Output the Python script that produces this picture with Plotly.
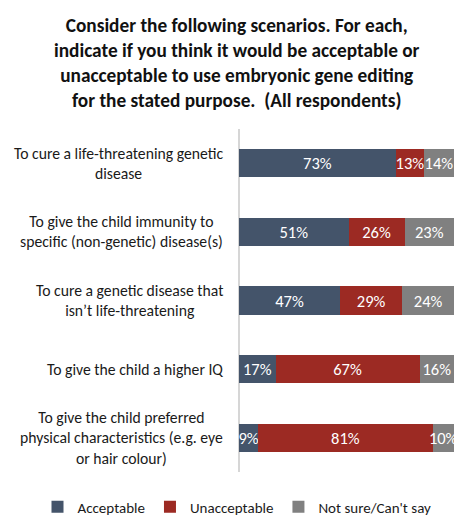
import plotly.graph_objects as go

categories = [
    "To cure a life-threatening genetic<br>disease",
    "To give the child immunity to<br>specific (non-genetic) disease(s)",
    "To cure a genetic disease that<br>isn\u2019t life-threatening",
    "To give the child a higher IQ",
    "To give the child preferred<br>physical characteristics (e.g. eye<br>or hair colour)",
]
acceptable = [73, 51, 47, 17, 9]
unacceptable = [13, 26, 29, 67, 81]
not_sure = [14, 23, 24, 16, 10]

series_names = ["Acceptable", "Unacceptable", "Not sure/Can't say"]
series_values = [acceptable, unacceptable, not_sure]
series_colors = ["#44546A", "#9C2A23", "#808080"]

FONT = "Carlito, Lato, 'Liberation Sans', sans-serif"
cat_ids = list(range(len(categories)))

# page has an 8px body margin; figure is sized to fit the window
OFF = 8
W, H = 474 - OFF, 532 - OFF


def PX(x):
    return (x - OFF) / W


def PY(y):
    return 1 - (y - OFF) / H


fig = go.Figure()
for name, vals, col in zip(series_names, series_values, series_colors):
    fig.add_trace(go.Bar(
        y=cat_ids, x=vals, name=name, orientation="h",
        marker=dict(color=col, line=dict(width=0)),
        text=[f"{v}%" for v in vals], textposition="inside",
        insidetextanchor="middle", constraintext="none", textangle=0,
        textfont=dict(color="white", size=16.5, family=FONT),
        width=0.41, hoverinfo="skip",
    ))

for i, c in enumerate(categories):
    fig.add_annotation(
        x=PX(225), xref="paper", y=i, yref="y",
        text=c, showarrow=False, xanchor="right", align="center",
        font=dict(size=15.7, color="#1a1a1a", family=FONT),
    )

fig.add_annotation(
    text="<b>Consider the following scenarios. For each,<br>indicate if you think it would be acceptable or<br>unacceptable to use embryonic gene editing<br>for the stated purpose.  (All respondents)</b>",
    x=PX(237), xref="paper", xanchor="center",
    y=PY(12), yref="paper", yanchor="top",
    showarrow=False, align="center",
    font=dict(size=19.3, color="#111111", family=FONT),
)

fig.update_layout(
    barmode="stack",
    width=W, height=H,
    margin=dict(l=0, r=0, t=0, b=0),
    paper_bgcolor="white", plot_bgcolor="white",
    xaxis=dict(domain=[PX(239), PX(454)], range=[0, 100],
               showgrid=False, showticklabels=False, zeroline=False,
               showline=False, fixedrange=True),
    yaxis=dict(domain=[PY(472), PY(129)], range=[4.5, -0.5],
               showgrid=False, showticklabels=False, zeroline=False,
               showline=False, ticks=""),
    showlegend=True,
    legend=dict(orientation="h", x=PX(237), xanchor="center",
                y=PY(507), yanchor="middle",
                font=dict(size=15, color="#1a1a1a", family=FONT),
                traceorder="normal"),
)

fig.add_shape(type="line", xref="paper", yref="paper",
              x0=PX(239), x1=PX(239),
              y0=PY(472), y1=PY(129),
              line=dict(color="#C8C8C8", width=1.5), layer="below")

fig.write_html("out.html")
